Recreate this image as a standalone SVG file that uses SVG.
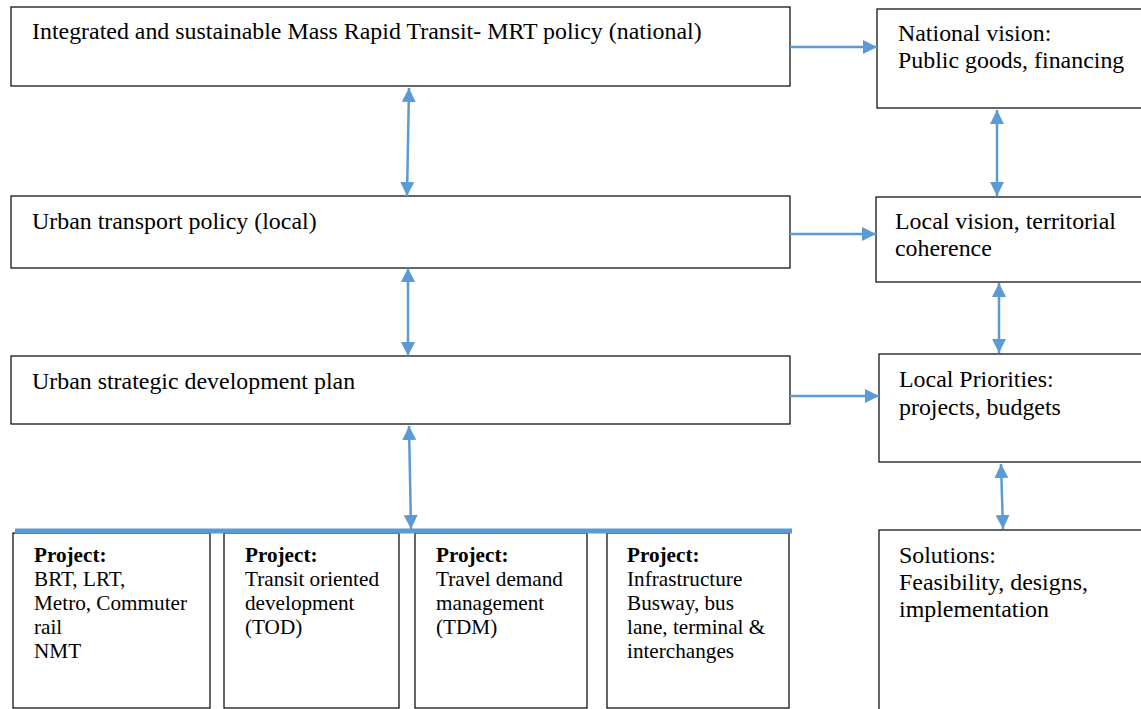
<svg xmlns="http://www.w3.org/2000/svg" width="1141" height="709" viewBox="0 0 1141 709">
  <style>
    .box { fill: #ffffff; stroke: #000000; stroke-width: 1.2; }
    .t { font-family: "Liberation Serif", "Times New Roman", serif; font-size: 23.9px; fill: #000000; }
    .p { font-family: "Liberation Serif", "Times New Roman", serif; font-size: 21.2px; fill: #000000; }
    .b { font-weight: bold; }
    .link { stroke: #5B9BD5; stroke-width: 2.5; fill: none; }
  </style>
  <defs>
    <marker id="head" viewBox="0 0 14 14" refX="14" refY="7" markerWidth="14" markerHeight="14" markerUnits="userSpaceOnUse" orient="auto-start-reverse">
      <path d="M0,0 L14,7 L0,14 z" fill="#5B9BD5"/>
    </marker>
  </defs>
  <rect width="1141" height="709" fill="#ffffff"/>

  <!-- policy chain (left column) -->
  <g id="mrt-policy">
    <rect class="box" x="11" y="7" width="779" height="79"/>
    <text class="t" x="32" y="39">Integrated and sustainable Mass Rapid Transit- MRT policy (national)</text>
  </g>
  <g id="urban-transport-policy">
    <rect class="box" x="11" y="196" width="779" height="72"/>
    <text class="t" x="32" y="229">Urban transport policy (local)</text>
  </g>
  <g id="urban-strategic-plan">
    <rect class="box" x="11" y="356" width="779" height="68"/>
    <text class="t" x="32" y="389">Urban strategic development plan</text>
  </g>

  <!-- project boxes -->
  <g id="project-mrt">
    <rect class="box" x="13" y="533" width="197" height="175"/>
    <text class="p" x="34" y="562"><tspan class="b">Project:</tspan><tspan x="34" dy="24">BRT, LRT,</tspan><tspan x="34" dy="24">Metro, Commuter</tspan><tspan x="34" dy="24">rail</tspan><tspan x="34" dy="24">NMT</tspan></text>
  </g>
  <g id="project-tod">
    <rect class="box" x="224" y="533" width="175" height="175"/>
    <text class="p" x="245" y="562"><tspan class="b">Project:</tspan><tspan x="245" dy="24">Transit oriented</tspan><tspan x="245" dy="24">development</tspan><tspan x="245" dy="24">(TOD)</tspan></text>
  </g>
  <g id="project-tdm">
    <rect class="box" x="415" y="533" width="172" height="175"/>
    <text class="p" x="436" y="562"><tspan class="b">Project:</tspan><tspan x="436" dy="24">Travel demand</tspan><tspan x="436" dy="24">management</tspan><tspan x="436" dy="24">(TDM)</tspan></text>
  </g>
  <g id="project-infrastructure">
    <rect class="box" x="607" y="533" width="182" height="175"/>
    <text class="p" x="627" y="562"><tspan class="b">Project:</tspan><tspan x="627" dy="24">Infrastructure</tspan><tspan x="627" dy="24">Busway, bus</tspan><tspan x="627" dy="24">lane, terminal &amp;</tspan><tspan x="627" dy="24">interchanges</tspan></text>
  </g>

  <!-- outcome column (right) -->
  <g id="national-vision">
    <rect class="box" x="877" y="9" width="275" height="99"/>
    <text class="t" x="898" y="41">National vision:<tspan x="898" dy="27">Public goods, financing</tspan></text>
  </g>
  <g id="local-vision">
    <rect class="box" x="876" y="197" width="275" height="85"/>
    <text class="t" x="895" y="229">Local vision, territorial<tspan x="895" dy="27">coherence</tspan></text>
  </g>
  <g id="local-priorities">
    <rect class="box" x="879" y="354" width="275" height="108"/>
    <text class="t" x="899" y="387">Local Priorities:<tspan x="899" dy="28">projects, budgets</tspan></text>
  </g>
  <g id="solutions">
    <rect class="box" x="879" y="530" width="275" height="190"/>
    <text class="t" x="899" y="563">Solutions:<tspan x="899" dy="27">Feasibility, designs,</tspan><tspan x="899" dy="27">implementation</tspan></text>
  </g>

  <!-- connectors -->
  <g id="connectors">
    <line x1="15" y1="531" x2="792" y2="531" stroke="#5B9BD5" stroke-width="5"/>
    <line class="link" x1="790" y1="47" x2="877" y2="47" marker-end="url(#head)"/>
    <line class="link" x1="790" y1="234" x2="876" y2="234" marker-end="url(#head)"/>
    <line class="link" x1="790" y1="396" x2="879" y2="396" marker-end="url(#head)"/>
    <line class="link" x1="409" y1="88" x2="407" y2="196" marker-start="url(#head)" marker-end="url(#head)"/>
    <line class="link" x1="408" y1="268" x2="408" y2="356" marker-start="url(#head)" marker-end="url(#head)"/>
    <line class="link" x1="409" y1="426" x2="411" y2="529" marker-start="url(#head)" marker-end="url(#head)"/>
    <line class="link" x1="997" y1="110" x2="997" y2="196" marker-start="url(#head)" marker-end="url(#head)"/>
    <line class="link" x1="999" y1="283" x2="999" y2="353" marker-start="url(#head)" marker-end="url(#head)"/>
    <line class="link" x1="1001" y1="464" x2="1003" y2="529" marker-start="url(#head)" marker-end="url(#head)"/>
  </g>
</svg>
